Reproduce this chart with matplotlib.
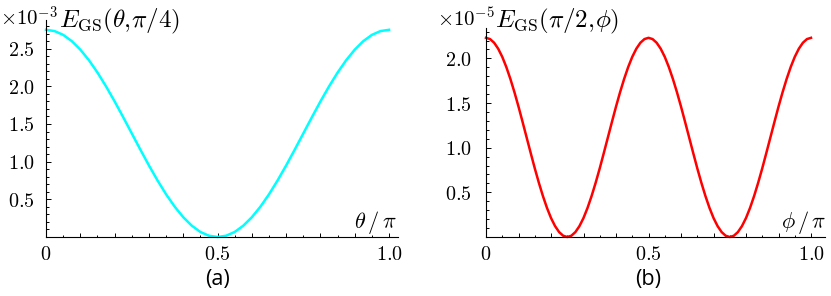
import numpy as np
import matplotlib
matplotlib.use('Agg')
import matplotlib.pyplot as plt
from matplotlib.ticker import MultipleLocator, FuncFormatter

plt.rcParams['mathtext.fontset'] = 'cm'
plt.rcParams['font.family'] = 'serif'
plt.rcParams['font.serif'] = ['DejaVu Serif']

# (a) E_GS(theta, pi/4), units of 1e-3, theta/pi in steps of 0.025
theta = np.linspace(0, 1, 41)
e_theta = [2.750, 2.733, 2.683, 2.600, 2.487, 2.347, 2.183, 1.999, 1.800, 1.590,
           1.375, 1.160, 0.950, 0.751, 0.567, 0.403, 0.263, 0.150, 0.067, 0.017,
           0.000,
           0.017, 0.067, 0.150, 0.263, 0.403, 0.567, 0.751, 0.950, 1.160, 1.375,
           1.590, 1.800, 1.999, 2.183, 2.347, 2.487, 2.600, 2.683, 2.733, 2.750]

# (b) E_GS(pi/2, phi), units of 1e-5, phi/pi in steps of 0.0125
phi = np.linspace(0, 1, 81)
e_phi = [2.230, 2.216, 2.175, 2.108, 2.017, 1.903, 1.770, 1.621, 1.460, 1.289,
         1.115, 0.941, 0.770, 0.609, 0.460, 0.327, 0.213, 0.122, 0.055, 0.014,
         0.000,
         0.014, 0.055, 0.122, 0.213, 0.327, 0.460, 0.609, 0.770, 0.941, 1.115,
         1.289, 1.460, 1.621, 1.770, 1.903, 2.017, 2.108, 2.175, 2.216, 2.230,
         2.216, 2.175, 2.108, 2.017, 1.903, 1.770, 1.621, 1.460, 1.289, 1.115,
         0.941, 0.770, 0.609, 0.460, 0.327, 0.213, 0.122, 0.055, 0.014, 0.000,
         0.014, 0.055, 0.122, 0.213, 0.327, 0.460, 0.609, 0.770, 0.941, 1.115,
         1.289, 1.460, 1.621, 1.770, 1.903, 2.017, 2.108, 2.175, 2.216, 2.230]

x_labels = {0.0: '0', 0.5: '0.5', 1.0: '1.0'}
W, H = 831, 296

fig = plt.figure(figsize=(W / 100, H / 100), dpi=100)


def px(x, y):
    return x / W, 1 - y / H


def setup(ax, ymax, xmax, ypad):
    for s in ['top', 'right']:
        ax.spines[s].set_visible(False)
    for s in ['left', 'bottom']:
        ax.spines[s].set_linewidth(0.8)
    ax.set_xlim(0, xmax)
    ax.set_ylim(0, ymax)
    ax.xaxis.set_major_locator(MultipleLocator(0.1))
    ax.xaxis.set_minor_locator(MultipleLocator(0.05))
    ax.yaxis.set_major_locator(MultipleLocator(0.5))
    ax.yaxis.set_minor_locator(MultipleLocator(0.1))
    ax.xaxis.set_major_formatter(FuncFormatter(
        lambda v, p: '$%s$' % x_labels[round(v, 2)] if round(v, 2) in x_labels else ''))
    ax.yaxis.set_major_formatter(FuncFormatter(
        lambda v, p: '$%.1f$' % v if v > 0.01 else ''))
    ax.tick_params(which='both', direction='in', labelsize=14.5, width=0.7)
    ax.tick_params(axis='x', which='major', length=3, pad=6)
    ax.tick_params(axis='x', which='minor', length=1.5)
    ax.tick_params(axis='y', which='major', length=3.5, pad=ypad)
    ax.tick_params(axis='y', which='minor', length=2)


# 左图
ax1 = fig.add_axes([46 / W, 59 / H, (398 - 46) / W, (237 - 20) / H])
ax1.plot(theta, e_theta, color='#00ffff', lw=1.8, clip_on=False)
setup(ax1, 2.88, 1.026, 8)

# 右图
ax2 = fig.add_axes([486 / W, 59 / H, (825 - 486) / W, (237 - 28) / H])
ax2.plot(phi, e_phi, color='#ff0000', lw=1.8, clip_on=False)
setup(ax2, 2.34, 1.043, 10)

# 轴标签
fig.text(*px(0, 26), r'$\times10^{\mathrm{-}3}$', fontsize=15, ha='left', va='baseline')
fig.text(*px(59, 27), r'$E_{\rm GS}(\theta,\!\pi/4)$', fontsize=18, ha='left', va='baseline')
fig.text(*px(397, 228), r'$\theta\,/\,\pi$', fontsize=16, ha='right', va='baseline')
fig.text(*px(437, 26), r'$\times10^{\mathrm{-}5}$', fontsize=15, ha='left', va='baseline')
fig.text(*px(495, 27), r'$E_{\rm GS}(\pi/2,\!\phi)$', fontsize=18, ha='left', va='baseline')
fig.text(*px(826, 228), r'$\phi\,/\,\pi$', fontsize=16, ha='right', va='baseline')

fig.text(*px(217, 280), '(a)', fontsize=15.5, family='Open Sans', ha='center', va='center')
fig.text(*px(648, 280), '(b)', fontsize=15.5, family='Open Sans', ha='center', va='center')

plt.savefig('out.png', dpi=100)
